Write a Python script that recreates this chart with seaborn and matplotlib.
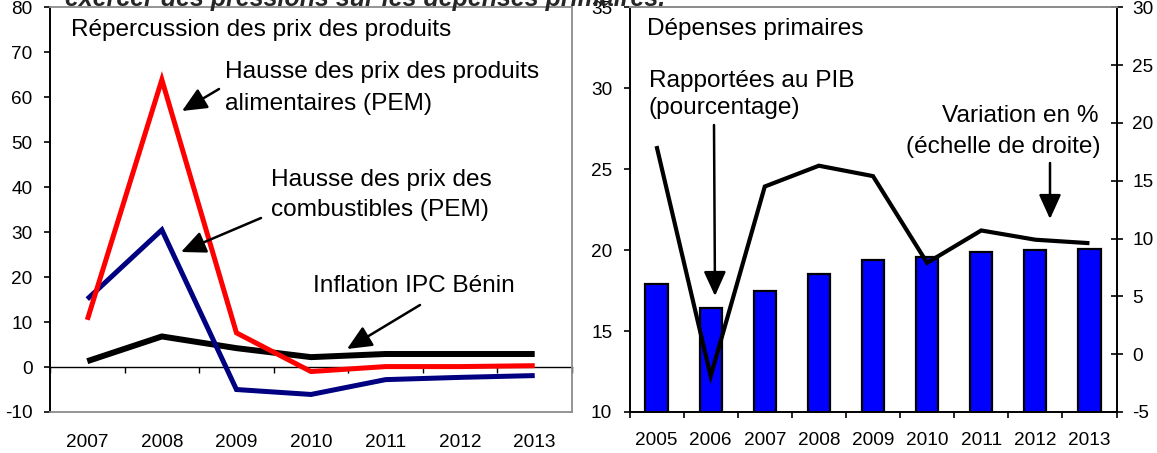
import numpy as np
import pandas as pd
import matplotlib
matplotlib.use("Agg")
import matplotlib.pyplot as plt
import seaborn as sns

# ---------------- data ----------------
years_left = ["2007", "2008", "2009", "2010", "2011", "2012", "2013"]
food_prices = [10.5, 63.9, 7.6, -1.0, 0.1, 0.1, 0.3]      # Hausse des prix des produits alimentaires (PEM)
fuel_prices = [15.1, 30.5, -5.0, -6.1, -2.8, -2.3, -1.9]  # Hausse des prix des combustibles (PEM)
cpi_benin = [1.3, 6.8, 4.2, 2.2, 2.9, 2.9, 2.9]           # Inflation IPC Bénin

years_right = ["2005", "2006", "2007", "2008", "2009", "2010", "2011", "2012", "2013"]
spend_gdp = [17.9, 16.4, 17.5, 18.5, 19.4, 19.6, 19.9, 20.0, 20.1]     # % du PIB
spend_growth = [18.0, -1.9, 14.5, 16.3, 15.4, 7.9, 10.7, 9.9, 9.6]     # variation en %

left_yticks = list(range(-10, 81, 10))
right_left_yticks = list(range(10, 36, 5))
right_right_yticks = list(range(-5, 31, 5))

# ---------------- style ----------------
sns.set_theme(style="white")
plt.rcParams["font.family"] = ["Liberation Sans", "DejaVu Sans"]
plt.rcParams["axes.unicode_minus"] = False

W, H = 1157, 453
fig = plt.figure(figsize=(W / 100, H / 100), dpi=100)


def fpos(x, y):
    return (x / W, 1 - y / H)


def axrect(l, r, t, b):
    return [l / W, 1 - b / H, (r - l) / W, (b - t) / H]


GRAY = "#8c8c8c"
TICK_FS = 13.7
TXT_FS = 17.6

# ---------------- left panel ----------------
ax = fig.add_axes(axrect(50, 572, 7.3, 412))
pos_l = np.arange(len(years_left))
df_l = pd.DataFrame({"pos": pos_l, "cpi": cpi_benin, "fuel": fuel_prices, "food": food_prices})
sns.lineplot(data=df_l, x="pos", y="cpi", color="black", linewidth=4.3, ax=ax)
sns.lineplot(data=df_l, x="pos", y="fuel", color="#000080", linewidth=3.6, ax=ax)
sns.lineplot(data=df_l, x="pos", y="food", color="#ff0000", linewidth=3.6, ax=ax)
for ln in ax.lines:
    ln.set_solid_capstyle("butt")
    ln.set_solid_joinstyle("miter")

ax.set_xlim(-0.5, len(years_left) - 0.5)
ax.set_ylim(left_yticks[0], left_yticks[-1])
ax.set_yticks(left_yticks)
ax.set_xticks(pos_l)
ax.set_xticklabels(years_left)
ax.set_xlabel("")
ax.set_ylabel("")
ax.tick_params(axis="x", length=0, pad=15.5, labelsize=TICK_FS, colors="black")
ax.tick_params(axis="y", left=True, direction="out", length=4, width=1.2, pad=8.5,
               labelsize=TICK_FS, colors="black")
for s in ["top", "right", "bottom"]:
    ax.spines[s].set_color(GRAY)
    ax.spines[s].set_linewidth(1.3)
ax.spines["left"].set_color("black")
ax.spines["left"].set_linewidth(1.4)

# zero line with tick marks between categories
sec = ax.secondary_xaxis(0, transform=ax.transData)
sec.set_xticks(np.arange(-0.5, len(years_left), 1.0))
sec.tick_params(axis="x", direction="out", length=4.5, width=1.0, labelbottom=False, color="black")
sec.spines["bottom"].set_color("black")
sec.spines["bottom"].set_linewidth(1.0)

# ---------------- right panel ----------------
ax2 = fig.add_axes(axrect(629.5, 1116.5, 7.3, 412))
df_r = pd.DataFrame({"year": years_right, "share": spend_gdp})
sns.barplot(data=df_r, x="year", y="share", color="#0000ff", saturation=1,
            edgecolor="black", linewidth=1.6, width=0.41, ax=ax2)
ax2.set_xlim(-0.5, len(years_right) - 0.5)
ax2.set_ylim(right_left_yticks[0], right_left_yticks[-1])
ax2.set_yticks(right_left_yticks)
ax2.set_xlabel("")
ax2.set_ylabel("")
ax2.set_xticks(np.arange(len(years_right)))
ax2.set_xticklabels(years_right)
ax2.set_xticks(np.arange(-0.5, len(years_right), 1.0), minor=True)
ax2.tick_params(axis="x", which="major", length=0, pad=14.5, labelsize=TICK_FS, colors="black")
ax2.tick_params(axis="x", which="minor", bottom=True, direction="out", length=4.5, width=1.2, color="black")
ax2.tick_params(axis="y", left=True, direction="out", length=4, width=1.2, pad=8.5,
                labelsize=TICK_FS, colors="black")
ax2.spines["left"].set_color("black")
ax2.spines["left"].set_linewidth(1.4)
ax2.spines["bottom"].set_color("black")
ax2.spines["bottom"].set_linewidth(1.4)
ax2.spines["top"].set_color(GRAY)
ax2.spines["top"].set_linewidth(1.3)
ax2.spines["right"].set_visible(False)

tw = ax2.twinx()
sns.lineplot(x=np.arange(len(years_right)), y=spend_growth, color="black", linewidth=3.0, ax=tw)
for ln in tw.lines:
    ln.set_solid_capstyle("butt")
    ln.set_solid_joinstyle("miter")
tw.set_ylim(right_right_yticks[0], right_right_yticks[-1])
tw.set_yticks(right_right_yticks)
tw.set_ylabel("")
tw.tick_params(axis="y", right=True, direction="inout", length=9, width=1.2, pad=7,
               labelsize=TICK_FS, colors="black")
tw.spines["right"].set_color("black")
tw.spines["right"].set_linewidth(1.4)
tw.spines["top"].set_color(GRAY)
tw.spines["top"].set_linewidth(1.3)
tw.spines["left"].set_visible(False)
tw.spines["bottom"].set_visible(False)
tw.grid(False)
ax2.grid(False)
ax.grid(False)

# ---------------- texts & arrows ----------------
fig.text(*fpos(65, 6), "exercer des pressions sur les dépenses primaires.", fontsize=18,
         fontweight="bold", fontstyle="italic", va="baseline", ha="left")

def txt(x, y, s, ha="left"):
    fig.text(*fpos(x, y), s, fontsize=TXT_FS, va="baseline", ha=ha, color="black")

arrow_kw = dict(arrowstyle="-|>,head_length=0.75,head_width=0.34", mutation_scale=20,
                lw=1.8, color="black", shrinkA=0, shrinkB=0)

def arrow(target_ax, tail, head):
    target_ax.annotate("", xy=fpos(*head), xycoords="figure fraction",
                       xytext=fpos(*tail), textcoords="figure fraction",
                       arrowprops=arrow_kw, annotation_clip=False)

txt(71, 36, "Répercussion des prix des produits")
txt(225, 78, "Hausse des prix des produits")
txt(225, 110, "alimentaires (PEM)")
arrow(ax, (219, 89), (182, 111))
txt(271, 186, "Hausse des prix des")
txt(271, 216, "combustibles (PEM)")
arrow(ax, (261, 218), (181, 252))
txt(313, 292, "Inflation IPC Bénin")
arrow(ax, (420, 305), (347, 349))

txt(647, 35, "Dépenses primaires")
txt(649, 87, "Rapportées au PIB")
txt(649, 114, "(pourcentage)")
arrow(tw, (714, 125), (715, 296))
txt(1098, 122, "Variation en %", ha="right")
txt(1100, 153, "(échelle de droite)", ha="right")
arrow(tw, (1050, 163), (1050, 219))

fig.savefig("out.png", dpi=100)
